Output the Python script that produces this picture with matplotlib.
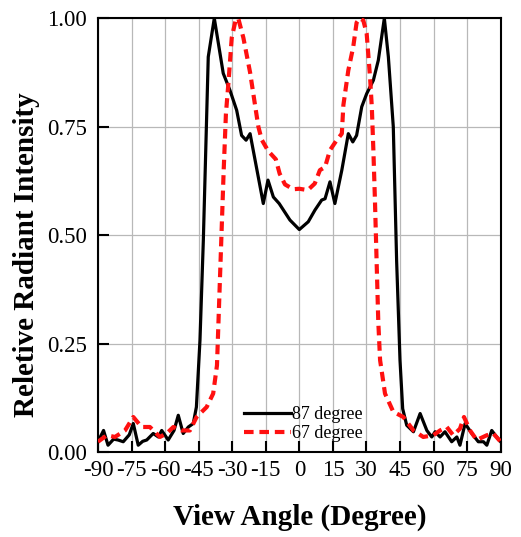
import matplotlib
matplotlib.use("Agg")
import matplotlib.pyplot as plt

# ---- data ----
angle_87 = [-90, -87.5, -85.5, -83, -81, -78.7, -76, -74.2, -72, -70, -68.2, -65.3, -63, -61.5,
            -58.6, -56, -54.1, -51.9, -49.6, -47.4, -46, -44.4, -42.9, -40.7, -38, -34, -31,
            -28, -25.8, -23.8, -22, -16.1, -14, -11.6, -9, -4.2, 0, 4, 7, 10, 11.5, 13.7, 15.9,
            19, 21.9, 23.9, 25.6, 27.9, 30.1, 33.1, 35.3, 38, 39.8, 42, 43.5, 45, 46.2, 48,
            51, 54, 57, 59.2, 60.7, 62.9, 65.1, 68.1, 70.4, 71.8, 74.1, 77.1, 80, 82.3, 83.8,
            86, 88.2, 90]
value_87 = [0.024, 0.05, 0.016, 0.03, 0.028, 0.024, 0.04, 0.066, 0.016, 0.025, 0.028, 0.043,
            0.035, 0.05, 0.028, 0.05, 0.085, 0.043, 0.058, 0.066, 0.104, 0.258, 0.488, 0.911,
            1.0, 0.873, 0.834, 0.788, 0.730, 0.719, 0.734, 0.573, 0.627, 0.588, 0.573, 0.535,
            0.513, 0.531, 0.558, 0.581, 0.584, 0.623, 0.573, 0.65, 0.734, 0.715, 0.73, 0.796,
            0.826, 0.857, 0.903, 1.0, 0.911, 0.75, 0.44, 0.212, 0.10, 0.062, 0.047, 0.089,
            0.05, 0.035, 0.047, 0.035, 0.047, 0.024, 0.035, 0.016, 0.066, 0.043, 0.024, 0.024,
            0.016, 0.05, 0.035, 0.024]

angle_67 = [-90, -86, -82.4, -77.9, -74.2, -70.5, -66.8, -62.3, -59.3, -56.3, -52.6, -48.9,
            -45.9, -41.4, -38.5, -36.8, -35.8, -34.8, -33.8, -32.8, -31.7, -30.2, -28.5, -27.3,
            -25, -22, -19.5, -18.3, -16.8, -13.9, -10.5, -8.8, -6.4, -2.7, 0, 3.8, 6.9, 9.2,
            11.5, 13.7, 16.7, 19, 19.7, 21.9, 24.1, 25.6, 27, 28.6, 30.1, 31.6, 32.4, 33.1,
            33.8, 34.6, 35.3, 36.1, 38.3, 42, 46.5, 51, 55.4, 59.9, 62.9, 65.9, 68.8, 71.8,
            73.6, 76.3, 79.3, 83.8, 86.7, 90]
value_67 = [0.024, 0.039, 0.035, 0.05, 0.081, 0.058, 0.058, 0.035, 0.043, 0.058, 0.05, 0.05,
            0.081, 0.104, 0.135, 0.2, 0.35, 0.5, 0.65, 0.78, 0.85, 0.955, 0.995, 1.0, 0.955,
            0.875, 0.79, 0.75, 0.72, 0.694, 0.675, 0.642, 0.617, 0.606, 0.607, 0.604, 0.619,
            0.65, 0.657, 0.696, 0.719, 0.734, 0.80, 0.88, 0.934, 0.99, 1.0, 0.995, 0.965,
            0.865, 0.796, 0.696, 0.581, 0.43, 0.3, 0.212, 0.135, 0.093, 0.081, 0.05, 0.035,
            0.039, 0.05, 0.058, 0.039, 0.054, 0.081, 0.05, 0.028, 0.039, 0.043, 0.024]

x_ticks = [-90, -75, -60, -45, -30, -15, 0, 15, 30, 45, 60, 75, 90]
x_ticklabels = ["-90", "-75", "-60", "-45", "-30", "-15", "0", "15", "30", "45", "60", "75", "90"]
y_ticks = [0.0, 0.25, 0.5, 0.75, 1.0]
y_ticklabels = ["0.00", "0.25", "0.50", "0.75", "1.00"]
series_labels = ["87 degree", "67 degree"]

plt.rcParams['font.family'] = ['Liberation Serif', 'DejaVu Serif']

fig = plt.figure(figsize=(5.21, 5.37), dpi=100)
ax = fig.add_axes([0.188, 0.158, 0.773, 0.808])

ax.plot(angle_87, value_87, color='black', lw=2.3, label=series_labels[0], zorder=3)
ax.plot(angle_67, value_67, color='#ff1010', lw=3.0, ls=(0, (2.3, 1.4)),
        label=series_labels[1], zorder=4)

ax.set_xlim(-90, 90)
ax.set_ylim(0, 1)
ax.set_xticks(x_ticks)
ax.set_xticklabels(x_ticklabels)
ax.set_yticks(y_ticks)
ax.set_yticklabels(y_ticklabels)
ax.grid(True, color='#b8b8b8', lw=0.9)
ax.set_axisbelow(True)
ax.tick_params(axis='both', direction='in', length=8, width=1.5, labelsize=16.5,
               colors='black')
ax.tick_params(axis='x', pad=6)
ax.tick_params(axis='y', pad=8)
for s in ax.spines.values():
    s.set_linewidth(1.5)
    s.set_color('black')

ax.set_xlabel("View Angle (Degree)", fontsize=21, fontweight='bold', labelpad=16)
ax.set_ylabel("Reletive Radiant Intensity", fontsize=21, fontweight='bold')
ax.yaxis.set_label_coords(-0.143, 0.455)

leg = ax.legend(loc='center', bbox_to_anchor=(0.51, 0.064), frameon=False, fontsize=13,
                handlelength=2.6, handletextpad=0.1, labelspacing=0.1, borderpad=0)

fig.savefig("out.png", dpi=100)
